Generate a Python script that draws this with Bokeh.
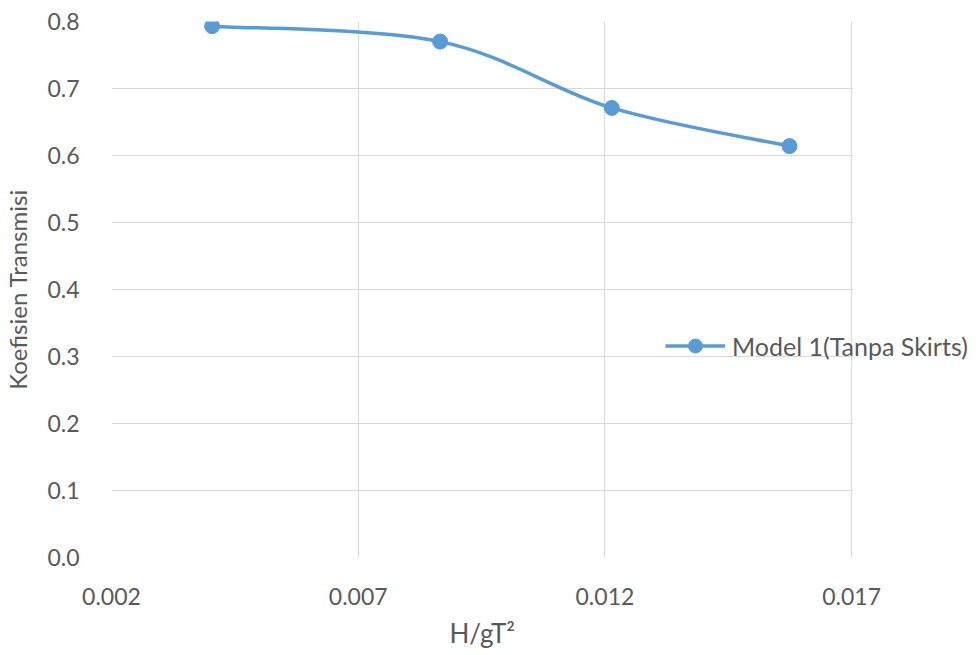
from bokeh.plotting import figure
from bokeh.models import (Legend, LegendItem, FixedTicker, NumeralTickFormatter, Range1d,
                          BoxAnnotation, Title)
from bokeh.embed import file_html
from bokeh.resources import INLINE

# Wave steepness vs. transmission coefficient
h_gt2 = [0.00404, 0.00866, 0.01214, 0.01574]
kt_model1 = [0.793, 0.770, 0.671, 0.614]
series_name = "Model 1(Tanpa Skirts)"
x_ticks = [0.002, 0.007, 0.012, 0.017]
y_ticks = [0.0, 0.1, 0.2, 0.3, 0.4, 0.5, 0.6, 0.7, 0.8]
x_min, x_max = 0.002, 0.017

BLUE = "#5B9BD5"
GREY = "#595959"
FONT = "Lato"

# The frame runs to the right edge of the page so the legend can sit past the
# last gridline; the area beyond x_max is masked white.
PLOT_W, FRAME_LEFT, GRID_W = 979, 110, 741
x_end = x_min + (x_max - x_min) * (PLOT_W - FRAME_LEFT) / GRID_W

p = figure(width=PLOT_W, height=655, output_backend="svg", toolbar_location=None,
           x_range=Range1d(x_min, x_end), y_range=Range1d(0.0, 0.8),
           min_border_left=FRAME_LEFT, min_border_right=0, min_border_top=21,
           min_border_bottom=98)
p.outline_line_color = None
p.background_fill_color = "white"

for ax in (p.xaxis[0], p.yaxis[0]):
    ax.axis_line_color = None
    ax.major_tick_line_color = None
    ax.minor_tick_line_color = None
    ax.major_label_text_color = GREY
    ax.major_label_text_font = FONT
    ax.major_label_text_font_size = "23px"

p.xaxis.ticker = FixedTicker(ticks=x_ticks)
p.yaxis.ticker = FixedTicker(ticks=y_ticks)
p.xaxis.formatter = NumeralTickFormatter(format="0.000")
p.yaxis.formatter = NumeralTickFormatter(format="0.0")
p.xaxis.major_label_standoff = 24
p.yaxis.major_label_standoff = 26

p.yaxis.axis_label = "Koefisien Transmisi"
p.yaxis.axis_label_text_color = GREY
p.yaxis.axis_label_text_font = FONT
p.yaxis.axis_label_text_font_size = "24px"
p.yaxis.axis_label_text_font_style = "normal"
p.yaxis.axis_label_standoff = 12

p.add_layout(Title(text="H/gT\u00b2", align="left", offset=338, text_color=GREY,
                   text_font=FONT, text_font_size="26px", text_font_style="normal",
                   standoff=14), "below")

p.grid.grid_line_color = "#D9D9D9"
p.grid.grid_line_width = 1

# Smoothed connecting line: Catmull-Rom segments drawn as cubic Beziers
n = len(h_gt2)
x0s, y0s, x1s, y1s, cx0, cy0, cx1, cy1 = [], [], [], [], [], [], [], []
for i in range(n - 1):
    xa, ya = h_gt2[i], kt_model1[i]
    xb, yb = h_gt2[i + 1], kt_model1[i + 1]
    xp, yp = (h_gt2[i - 1], kt_model1[i - 1]) if i > 0 else (xa, ya)
    xn, yn = (h_gt2[i + 2], kt_model1[i + 2]) if i + 2 < n else (xb, yb)
    x0s.append(xa); y0s.append(ya); x1s.append(xb); y1s.append(yb)
    cx0.append(xa + (xb - xp) / 6); cy0.append(ya + (yb - yp) / 6)
    cx1.append(xb - (xn - xa) / 6); cy1.append(yb - (yn - ya) / 6)

p.bezier(x0=x0s, y0=y0s, x1=x1s, y1=y1s, cx0=cx0, cy0=cy0, cx1=cx1, cy1=cy1,
         line_color=BLUE, line_width=3.5)
pts = p.scatter(h_gt2, kt_model1, size=15, fill_color=BLUE, line_color=BLUE)

# White mask right of the last vertical gridline
p.add_layout(BoxAnnotation(left=x_max + 1.2 * (x_max - x_min) / GRID_W, fill_color="white",
                           fill_alpha=1.0, line_color=None, level="underlay"))

# Legend swatch: a line with a marker on it
leg_line = p.line([h_gt2[0]], [kt_model1[0]], line_color=BLUE, line_width=3.5, visible=False)
legend = Legend(items=[LegendItem(label=series_name, renderers=[leg_line, pts])],
                location=(554, 194), border_line_color=None, background_fill_alpha=0,
                label_text_font=FONT, label_text_font_size="25px", label_text_color=GREY,
                glyph_width=60, glyph_height=35, label_standoff=7, padding=0, margin=0)
p.add_layout(legend, "center")

open("out.html", "w").write(file_html(p, INLINE))
